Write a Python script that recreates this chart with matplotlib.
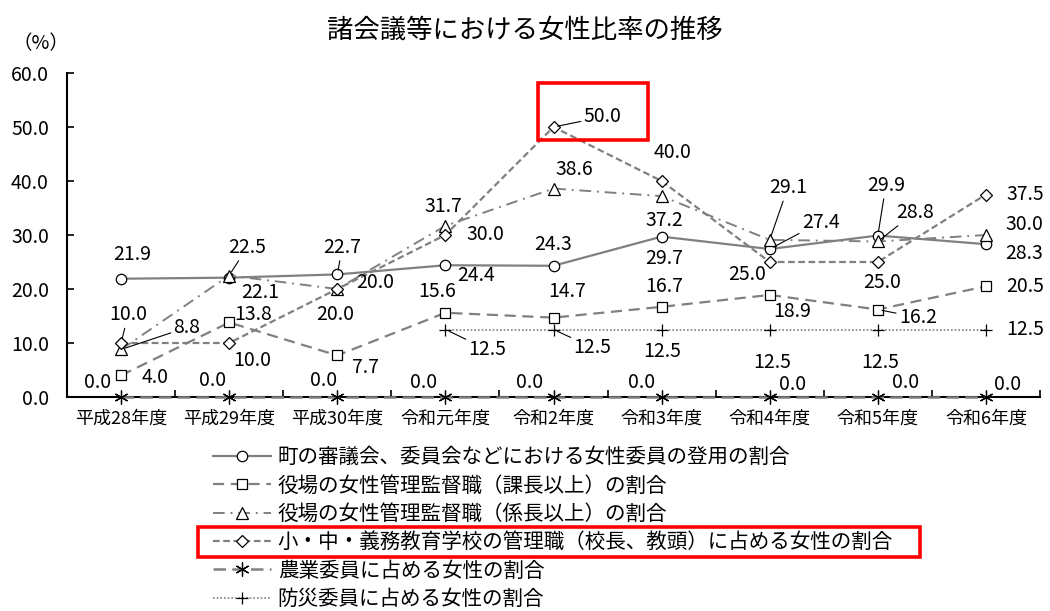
import numpy as np
import matplotlib
matplotlib.use('Agg')
import matplotlib.pyplot as plt
from matplotlib.patches import Rectangle

plt.rcParams['font.family'] = ['Noto Sans CJK JP', 'DejaVu Sans']

# data
title = '諸会議等における女性比率の推移'
categories = ['平成28年度', '平成29年度', '平成30年度', '令和元年度', '令和2年度',
              '令和3年度', '令和4年度', '令和5年度', '令和6年度']
council = [21.9, 22.1, 22.7, 24.4, 24.3, 29.7, 27.4, 29.9, 28.3]
mgr_section = [4.0, 13.8, 7.7, 15.6, 14.7, 16.7, 18.9, 16.2, 20.5]
mgr_chief = [8.8, 22.5, 20.0, 31.7, 38.6, 37.2, 29.1, 28.8, 30.0]
school = [10.0, 10.0, 20.0, 30.0, 50.0, 40.0, 25.0, 25.0, 37.5]
agri = [0.0, 0.0, 0.0, 0.0, 0.0, 0.0, 0.0, 0.0, 0.0]
disaster = [None, None, None, 12.5, 12.5, 12.5, 12.5, 12.5, 12.5]

names = ['町の審議会、委員会などにおける女性委員の登用の割合',
         '役場の女性管理監督職（課長以上）の割合',
         '役場の女性管理監督職（係長以上）の割合',
         '小・中・義務教育学校の管理職（校長、教頭）に占める女性の割合',
         '農業委員に占める女性の割合',
         '防災委員に占める女性の割合']

# label offsets in pixels (dx, dy, leader line)
off_council = [(11, 24, 0), (31, -15, 0), (5, 27, 1), (31, -10, 0), (0, 21, 0),
               (3, -22, 0), (51, 27, 1), (8, 50, 1), (38, -9, 0)]
off_section = [(34, -2, 0), (24, 8, 0), (28, -12, 0), (-8, 21, 0), (14, 26, 0),
               (3, 20, 0), (22, -17, 0), (40, -8, 1), (39, 0, 0)]
off_chief = [(66, 22, 1), (18, 28, 1), (38, 7, 0), (-2, 19, 0), (21, 19, 0),
             (3, -24, 0), (18, 52, 1), (37, 29, 1), (38, 11, 0)]
off_school = [(7, 28, 1), (23, -17, 0), (-2, -26, 0), (40, 0, 0), (49, 10, 1),
              (11, 28, 0), (-23, -13, 0), (4, -21, 0), (39, 0, 0)]
off_agri = [(-23, 14, 0), (-17, 17, 0), (-14, 17, 0), (-22, 15, 0), (-24, 14, 0),
            (-20, 15, 0), (23, 12, 0), (28, 14, 0), (22, 13, 0)]
off_disaster = [None, None, None, (42, -20, 1), (39, -18, 1), (1, -22, 0),
                (2, -33, 0), (2, -33, 0), (39, 0, 0)]

gray = '#808080'
styles = [
    dict(marker='o', ms=7.5, linestyle='-', lw=1.6),
    dict(marker='s', ms=7, linestyle=(0, (5, 3)), lw=1.6),
    dict(marker='^', ms=8, linestyle=(0, (6, 3, 1, 3)), lw=1.4),
    dict(marker='D', ms=6, linestyle=(0, (3, 1.6)), lw=1.6),
    dict(marker=(6, 2, 0), ms=10, linestyle=(0, (5, 2.5)), lw=1.8),
    dict(marker='+', ms=8, linestyle=(0, (1, 1.2)), lw=1.2),
]

fig = plt.figure(figsize=(10.5, 6.11), dpi=100)
ax = fig.add_axes([67 / 1050, 1 - 397 / 611, 973 / 1050, 324 / 611])
x = np.arange(len(categories))

series = [council, mgr_section, mgr_chief, school, agri, disaster]
offsets = [off_council, off_section, off_chief, off_school, off_agri, off_disaster]
for vals, offs, name, st in zip(series, offsets, names, styles):
    y = np.array([np.nan if v is None else v for v in vals])
    ax.plot(x, y, color=gray, marker=st['marker'], ms=st['ms'], mfc='white', mec='black',
            mew=0.9, linestyle=st['linestyle'], lw=st['lw'], label=name, clip_on=False, zorder=3)
    for i, v in enumerate(vals):
        if v is None:
            continue
        dx, dy, lead = offs[i]
        props = dict(arrowstyle='-', color='black', lw=0.8, shrinkA=0, shrinkB=3) if lead else None
        ax.annotate(f'{v:.1f}', xy=(i, v), xytext=(dx, dy), textcoords='offset pixels',
                    ha='center', va='center', fontsize=14, arrowprops=props, zorder=4)

ax.set_xlim(-0.5, 8.5)
ax.set_ylim(0, 60)
ax.set_xticks(np.arange(-0.5, 9, 1))
ax.set_xticklabels([])
ax.set_xticks(x, minor=True)
ax.set_xticklabels(categories, minor=True, fontsize=13)
ax.tick_params(axis='x', which='major', direction='in', length=5, width=1.2)
ax.tick_params(axis='x', which='minor', length=0, pad=9)
ax.set_yticks(np.arange(0, 61, 10))
ax.set_yticklabels([f'{t:.1f}' for t in np.arange(0, 61, 10)], fontsize=14)
ax.tick_params(axis='y', direction='in', length=5, width=1.2, pad=13)
for s in ['top', 'right']:
    ax.spines[s].set_visible(False)
ax.spines['left'].set_linewidth(1.5)
ax.spines['bottom'].set_linewidth(1.5)

fig.text(525 / 1050, 1 - 30 / 611, title, ha='center', va='center', fontsize=19)
fig.text(41 / 1050, 1 - 44 / 611, '（%）', ha='center', va='center', fontsize=14)

fig.legend(loc='upper left', bbox_to_anchor=(213 / 1050, 1 - 446 / 611), frameon=False,
           fontsize=14.8, handlelength=2.8, handletextpad=0.35, labelspacing=0.31,
           borderpad=0, borderaxespad=0)

# red highlight boxes
fig.patches.append(Rectangle((538 / 1050, 1 - 140 / 611), 110 / 1050, 57 / 611,
                             transform=fig.transFigure, fill=False, ec='#ff0000', lw=2.6))
fig.patches.append(Rectangle((198 / 1050, 1 - 557 / 611), 722 / 1050, 30 / 611,
                             transform=fig.transFigure, fill=False, ec='#ff0000', lw=2.6))

fig.savefig('out.png', dpi=100)
